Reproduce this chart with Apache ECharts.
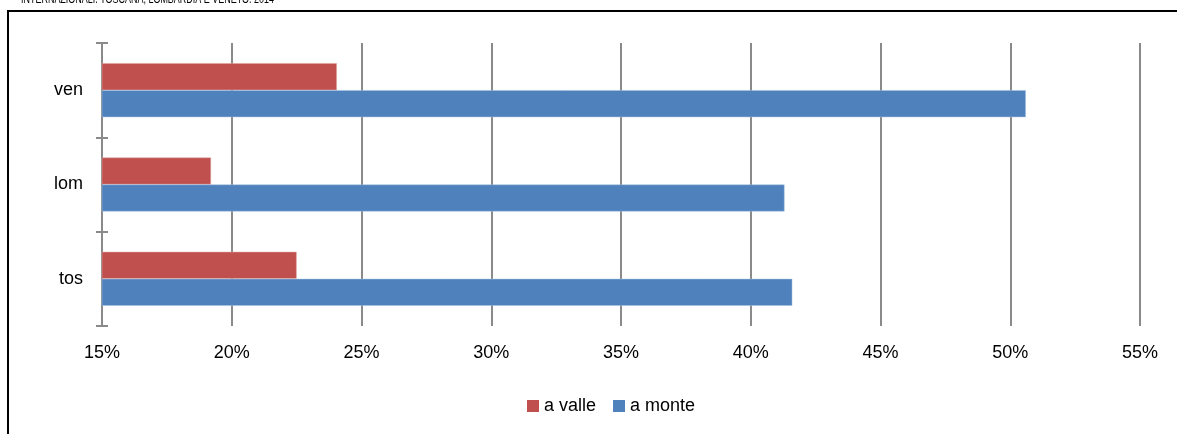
<!DOCTYPE html>
<html>
<head>
<meta charset="utf-8">
<script src="https://cdn.jsdelivr.net/npm/echarts@6/dist/echarts.min.js"></script>
<style>
html, body { margin: 0; padding: 0; background: #fff; }
#chart { width: 1177px; height: 434px; }
</style>
</head>
<body>
<div id="chart"></div>
<script>
// regioni, dal basso verso l'alto
var regioni = ['tos', 'lom', 'ven'];
var aValle = [22.5, 19.2, 24.05];
var aMonte = [41.6, 41.3, 50.6];
var titolo = 'INTERNAZIONALI. TOSCANA, LOMBARDIA E VENETO. 2014';

var font = '"Liberation Sans", Arial, sans-serif';
var grigio = '#8a8a8a';

var chart = echarts.init(document.getElementById('chart'));
chart.setOption({
	animation: false,
	textStyle: { fontFamily: font },
	graphic: [
		{ // cornice
			type: 'polyline',
			shape: { points: [[8, 434], [8, 11], [1177, 11]] },
			style: { stroke: '#000', lineWidth: 2, fill: 'none' }
		},
		{ // titolo tagliato in alto
			type: 'text',
			x: 21, y: -7,
			scaleX: 0.69,
			style: { text: titolo, fontSize: 13, fontFamily: font, fill: '#000' }
		}
	],
	legend: {
		data: ['a valle', 'a monte'],
		left: 522, top: 392,
		itemWidth: 12, itemHeight: 12, itemGap: 17,
		icon: 'rect',
		itemStyle: { borderWidth: 0 },
		textStyle: { fontSize: 18, color: '#000', padding: [0, 0, 0, 0] }
	},
	grid: { left: 102, right: 37, top: 43, bottom: 108 },
	xAxis: {
		type: 'value',
		min: 15, max: 55, interval: 5,
		axisLine: { show: false },
		axisTick: { show: false },
		axisLabel: { formatter: '{value}%', fontSize: 18, color: '#000', margin: 18 },
		splitLine: { lineStyle: { color: grigio, width: 2 } }
	},
	yAxis: [
		{
			type: 'category',
			data: regioni,
			axisLine: { show: true, onZero: false, lineStyle: { color: grigio, width: 2 } },
			axisTick: { show: true, length: 6, lineStyle: { color: grigio, width: 2 } },
			axisLabel: { fontSize: 18, color: '#000', margin: 19 }
		},
		{ // tacche interne, per farle attraversare l'asse
			type: 'category',
			data: regioni,
			position: 'left',
			axisLine: { show: false, onZero: false },
			axisTick: { show: true, inside: true, length: 6, lineStyle: { color: grigio, width: 2 } },
			axisLabel: { show: false }
		}
	],
	series: [
		{
			name: 'a valle',
			type: 'bar',
			data: aValle,
			barWidth: 27, barGap: '0%',
			itemStyle: { color: '#c0504d', borderColor: '#dea9a7', borderWidth: 0.5 }
		},
		{
			name: 'a monte',
			type: 'bar',
			data: aMonte,
			barWidth: 27, barGap: '0%',
			itemStyle: { color: '#4f81bd', borderColor: '#a7c0de', borderWidth: 0.5 }
		}
	]
});
</script>
</body>
</html>
